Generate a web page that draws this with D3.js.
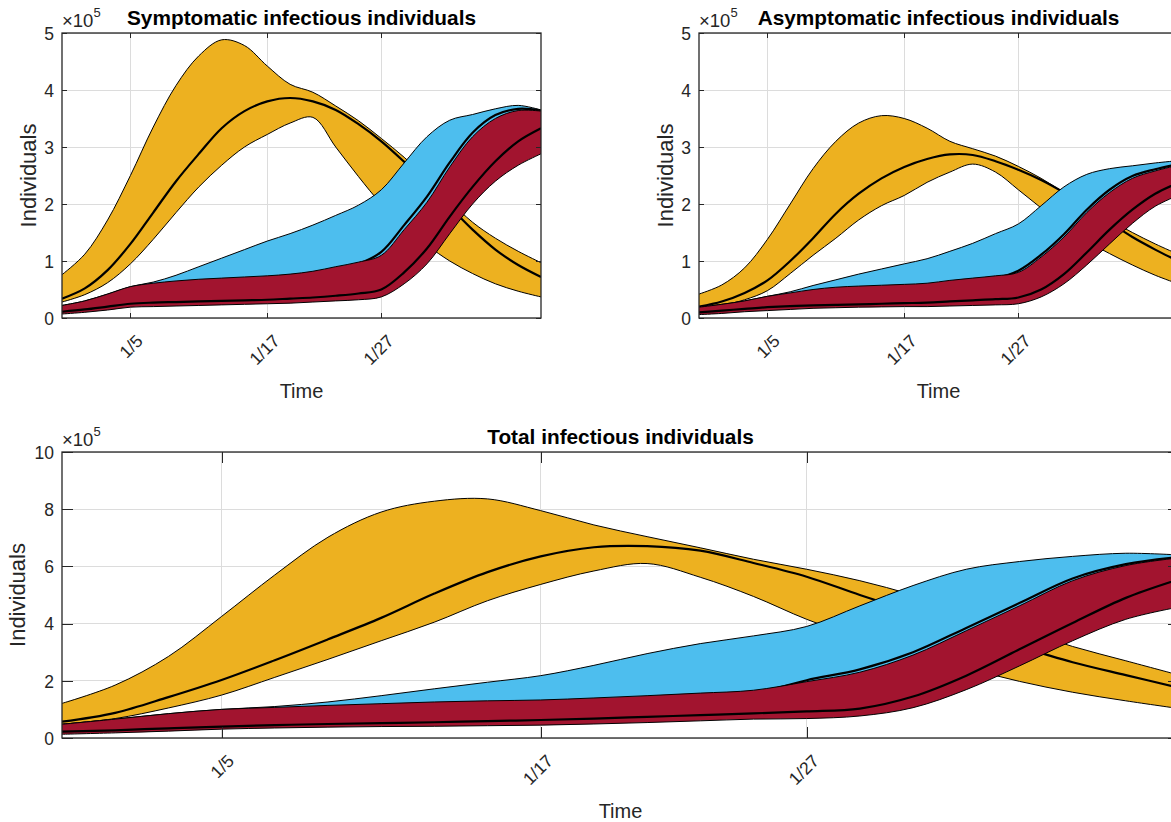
<!DOCTYPE html>
<html><head><meta charset="utf-8">
<script src="https://cdn.jsdelivr.net/npm/d3@7"></script>
<style>
html,body{margin:0;padding:0;background:#fff;overflow:hidden;}
svg{display:block;font-family:"Liberation Sans",Arial,Helvetica,sans-serif;}
</style></head><body>
<svg id="chart" width="1171" height="822"></svg>
<script>
// ---------- data (day index: 0 = Dec 30, values in units of 1e5) ----------
const days = [0,2,4,6,8,10,12,14,16,18,20,22,24,26,28,30,32,34,36,38,40,42];
const tickDays = [6,18,28];
const tickLabels = ["1/5","1/17","1/27"];
const unit = 1e5;
const smallYTicks = [0,1,2,3,4,5];
const totalYTicks = [0,2,4,6,8,10];

// Symptomatic
const symYellowHi  = [0.76,1.12,1.72,2.5,3.35,4.08,4.6,4.88,4.78,4.42,4.1,3.96,3.72,3.46,3.15,2.82,2.45,2.05,1.68,1.4,1.17,0.97];
const symYellowMid = [0.34,0.52,0.84,1.3,1.85,2.4,2.88,3.33,3.63,3.8,3.86,3.8,3.65,3.4,3.1,2.74,2.35,1.95,1.55,1.2,0.93,0.72];
const symYellowLo  = [0.28,0.41,0.62,0.95,1.38,1.85,2.3,2.68,3.0,3.22,3.42,3.52,3.0,2.48,2.0,1.62,1.28,1.0,0.78,0.6,0.47,0.37];
const symBlueHi    = [0.22,0.3,0.42,0.55,0.63,0.75,0.9,1.05,1.2,1.35,1.48,1.63,1.8,1.98,2.25,2.72,3.18,3.47,3.57,3.67,3.73,3.65];
const symBlueMid   = [0.2,0.27,0.38,0.5,0.57,0.6,0.63,0.65,0.67,0.69,0.72,0.77,0.85,0.95,1.16,1.63,2.13,2.73,3.25,3.56,3.67,3.64];
const symBlueLo    = [0.11,0.15,0.2,0.25,0.27,0.28,0.29,0.3,0.31,0.32,0.34,0.36,0.39,0.43,0.5,0.8,1.22,1.78,2.3,2.75,3.1,3.33];
const symRedHi     = [0.22,0.3,0.42,0.55,0.61,0.65,0.68,0.7,0.72,0.74,0.77,0.82,0.9,0.98,1.1,1.55,2.03,2.65,3.18,3.5,3.64,3.63];
const symRedMid    = [0.11,0.15,0.2,0.25,0.27,0.28,0.29,0.3,0.31,0.32,0.34,0.36,0.39,0.43,0.5,0.8,1.22,1.78,2.3,2.75,3.1,3.33];
const symRedLo     = [0.07,0.1,0.14,0.19,0.2,0.21,0.22,0.23,0.24,0.25,0.26,0.28,0.3,0.32,0.37,0.6,0.95,1.48,2.0,2.4,2.68,2.88];

// Asymptomatic
const asyYellowHi  = [0.42,0.58,0.88,1.38,2.0,2.62,3.1,3.42,3.55,3.5,3.33,3.1,2.97,2.84,2.66,2.45,2.2,1.95,1.72,1.5,1.3,1.12];
const asyYellowMid = [0.2,0.29,0.44,0.66,1.0,1.4,1.83,2.18,2.45,2.65,2.79,2.87,2.86,2.75,2.6,2.42,2.2,1.95,1.68,1.42,1.2,1.0];
const asyYellowLo  = [0.16,0.22,0.32,0.48,0.78,1.1,1.4,1.72,1.97,2.15,2.38,2.56,2.7,2.56,2.25,1.93,1.62,1.35,1.13,0.93,0.75,0.6];
const asyBlueHi    = [0.19,0.24,0.3,0.38,0.46,0.57,0.67,0.77,0.86,0.95,1.04,1.17,1.31,1.48,1.65,1.97,2.3,2.52,2.62,2.67,2.72,2.76];
const asyBlueMid   = [0.17,0.22,0.27,0.34,0.4,0.45,0.49,0.51,0.52,0.54,0.56,0.6,0.65,0.7,0.83,1.11,1.47,1.9,2.25,2.49,2.61,2.7];
const asyBlueLo    = [0.1,0.13,0.16,0.19,0.21,0.22,0.23,0.24,0.25,0.26,0.27,0.29,0.31,0.33,0.36,0.5,0.77,1.15,1.55,1.9,2.18,2.37];
const asyRedHi     = [0.19,0.24,0.3,0.38,0.44,0.5,0.54,0.56,0.575,0.59,0.61,0.66,0.7,0.74,0.8,1.07,1.42,1.85,2.2,2.45,2.58,2.68];
const asyRedMid    = [0.1,0.13,0.16,0.19,0.21,0.22,0.23,0.24,0.25,0.26,0.27,0.29,0.31,0.33,0.36,0.5,0.77,1.15,1.55,1.9,2.18,2.37];
const asyRedLo     = [0.06,0.08,0.11,0.13,0.15,0.17,0.18,0.19,0.195,0.2,0.2,0.21,0.22,0.23,0.25,0.37,0.6,0.93,1.3,1.66,1.96,2.15];

// Total
const totYellowHi  = [1.21,1.85,2.85,4.25,5.7,7.02,7.9,8.28,8.36,7.95,7.45,7.04,6.65,6.25,5.9,5.5,5.0,4.4,3.8,3.2,2.7,2.2];
const totYellowMid = [0.57,0.88,1.43,2.03,2.72,3.45,4.2,5.05,5.8,6.35,6.67,6.71,6.55,6.12,5.64,5.0,4.4,3.8,3.2,2.65,2.2,1.76];
const totYellowLo  = [0.48,0.68,1.05,1.5,2.12,2.75,3.4,4.05,4.8,5.37,5.84,6.1,5.62,4.95,4.15,3.5,2.95,2.45,1.98,1.6,1.3,1.03];
const totBlueHi    = [0.48,0.66,0.85,1.0,1.1,1.26,1.48,1.72,1.95,2.18,2.54,2.95,3.3,3.57,3.9,4.62,5.33,5.9,6.17,6.35,6.46,6.4];
const totBlueMid   = [0.45,0.6,0.78,0.92,0.98,1.04,1.09,1.14,1.18,1.21,1.27,1.35,1.44,1.55,2.02,2.4,3.0,3.85,4.72,5.58,6.08,6.33];
const totBlueLo    = [0.22,0.27,0.34,0.4,0.45,0.49,0.52,0.55,0.59,0.63,0.68,0.74,0.8,0.86,0.93,1.03,1.45,2.18,3.1,4.02,4.9,5.55];
const totRedHi     = [0.48,0.66,0.85,1.0,1.07,1.14,1.2,1.26,1.3,1.33,1.4,1.48,1.57,1.67,1.97,2.3,2.9,3.75,4.62,5.5,6.03,6.3];
const totRedMid    = [0.22,0.27,0.34,0.4,0.45,0.49,0.52,0.55,0.59,0.63,0.68,0.74,0.8,0.86,0.93,1.03,1.45,2.18,3.1,4.02,4.9,5.55];
const totRedLo     = [0.13,0.18,0.24,0.31,0.35,0.38,0.4,0.41,0.43,0.45,0.49,0.54,0.6,0.66,0.68,0.77,1.06,1.69,2.52,3.4,4.15,4.58];

const colors = {yellow:"#EDB120", blue:"#4DBEEE", red:"#A2142F"};
const axisColor = "#262626";

const panels = [
  {title:"Symptomatic infectious individuals", left:62, top:33, width:479, height:285, yMax:5, yTicks:smallYTicks, tickLen:5, ylabOff:26,
   bands:[{c:colors.yellow,hi:symYellowHi,mid:symYellowMid,lo:symYellowLo},
          {c:colors.blue,hi:symBlueHi,mid:symBlueMid,lo:symBlueLo},
          {c:colors.red,hi:symRedHi,mid:symRedMid,lo:symRedLo}]},
  {title:"Asymptomatic infectious individuals", left:699, top:33, width:479, height:285, yMax:5, yTicks:smallYTicks, tickLen:5, ylabOff:26,
   bands:[{c:colors.yellow,hi:asyYellowHi,mid:asyYellowMid,lo:asyYellowLo},
          {c:colors.blue,hi:asyBlueHi,mid:asyBlueMid,lo:asyBlueLo},
          {c:colors.red,hi:asyRedHi,mid:asyRedMid,lo:asyRedLo}]},
  {title:"Total infectious individuals", left:62, top:452, width:1117, height:286, yMax:10, yTicks:totalYTicks, tickLen:11, ylabOff:37,
   bands:[{c:colors.yellow,hi:totYellowHi,mid:totYellowMid,lo:totYellowLo},
          {c:colors.blue,hi:totBlueHi,mid:totBlueMid,lo:totBlueLo},
          {c:colors.red,hi:totRedHi,mid:totRedMid,lo:totRedLo}]}
];

const svg = d3.select("#chart");
const defs = svg.append("defs");
const curve = d3.curveCatmullRom.alpha(0.5);

panels.forEach((p, pi) => {
  const x = d3.scaleLinear().domain([0, 42]).range([p.left, p.left + p.width]);
  const y = d3.scaleLinear().domain([0, p.yMax * unit]).range([p.top + p.height, p.top]);
  const g = svg.append("g");

  defs.append("clipPath").attr("id", "clip" + pi)
    .append("rect").attr("x", p.left).attr("y", p.top).attr("width", p.width).attr("height", p.height);

  // grid
  const grid = g.append("g").attr("stroke", "#dcdcdc").attr("stroke-width", 1).attr("shape-rendering","crispEdges");
  grid.selectAll("line.gy").data(p.yTicks).join("line")
    .attr("x1", p.left).attr("x2", p.left + p.width)
    .attr("y1", d => y(d * unit)).attr("y2", d => y(d * unit));
  grid.selectAll("line.gx").data(tickDays).join("line")
    .attr("x1", d => x(d)).attr("x2", d => x(d))
    .attr("y1", p.top).attr("y2", p.top + p.height);

  // bands
  const plot = g.append("g").attr("clip-path", `url(#clip${pi})`);
  p.bands.forEach(b => {
    const area = d3.area().curve(curve)
      .x(d => x(d)).y0((d, i) => y(b.lo[i] * unit)).y1((d, i) => y(b.hi[i] * unit));
    const line = arr => d3.line().curve(curve)
      .x(d => x(d)).y((d, i) => y(arr[i] * unit))(days);
    plot.append("path").attr("d", area(days)).attr("fill", b.c).attr("stroke", "none");
    plot.append("path").attr("d", line(b.hi)).attr("fill", "none").attr("stroke", "#000").attr("stroke-width", 1);
    plot.append("path").attr("d", line(b.lo)).attr("fill", "none").attr("stroke", "#000").attr("stroke-width", 1);
    plot.append("path").attr("d", line(b.mid)).attr("fill", "none").attr("stroke", "#000").attr("stroke-width", 2.2);
  });

  // axes
  const fmtX = (d) => tickLabels[tickDays.indexOf(d)];
  const bottom = g.append("g").attr("transform", `translate(0,${p.top + p.height})`)
    .call(d3.axisBottom(x).tickValues(tickDays).tickFormat(fmtX).tickSizeInner(-p.tickLen).tickSizeOuter(0));
  bottom.selectAll("text").attr("x", 0).attr("y", 0).attr("dy", 0)
    .attr("text-anchor", "end").attr("transform", "translate(13,24) rotate(-45)");
  const topAx = g.append("g").attr("transform", `translate(0,${p.top})`)
    .call(d3.axisTop(x).tickValues(tickDays).tickFormat("").tickSizeInner(-p.tickLen).tickSizeOuter(0));
  const leftAx = g.append("g").attr("transform", `translate(${p.left},0)`)
    .call(d3.axisLeft(y).tickValues(p.yTicks.map(v => v * unit)).tickFormat(v => d3.format("d")(v / unit))
      .tickSizeInner(-p.tickLen).tickSizeOuter(0).tickPadding(8));
  const rightAx = g.append("g").attr("transform", `translate(${p.left + p.width},0)`)
    .call(d3.axisRight(y).tickValues(p.yTicks.map(v => v * unit)).tickFormat("")
      .tickSizeInner(-p.tickLen).tickSizeOuter(0));
  [bottom, topAx, leftAx, rightAx].forEach(a => {
    a.select(".domain").remove();
    a.selectAll("line").attr("stroke", axisColor).attr("shape-rendering","crispEdges");
    a.selectAll("text").attr("fill", axisColor).style("font-size", "17.5px")
      .style("font-family", '"Liberation Sans",Arial,sans-serif');
  });
  leftAx.selectAll("text").attr("dy", "0.36em");

  g.append("rect").attr("x", p.left).attr("y", p.top).attr("width", p.width).attr("height", p.height)
    .attr("fill", "none").attr("stroke", axisColor).attr("stroke-width", 1.3);

  // exponent label
  const ex = g.append("text").attr("x", p.left).attr("y", p.top - 6).attr("fill", axisColor).style("font-size", "18.5px");
  ex.append("tspan").text("×10");
  ex.append("tspan").attr("dy", -10).style("font-size", "13px").text("5");

  // title
  g.append("text").attr("x", p.left + p.width / 2).attr("y", p.top - 8).attr("text-anchor", "middle")
    .attr("fill", "#000").style("font-size", "20.8px").style("font-weight", "bold").text(p.title);

  // axis labels
  g.append("text").attr("x", p.left + p.width / 2).attr("y", p.top + p.height + 80).attr("text-anchor", "middle")
    .attr("fill", axisColor).style("font-size", "20px").text("Time");
  g.append("text").attr("transform", `translate(${p.left - p.ylabOff},${p.top + p.height / 2}) rotate(-90)`)
    .attr("text-anchor", "middle").attr("fill", axisColor).style("font-size", "22px").text("Individuals");
});
</script>
</body></html>
